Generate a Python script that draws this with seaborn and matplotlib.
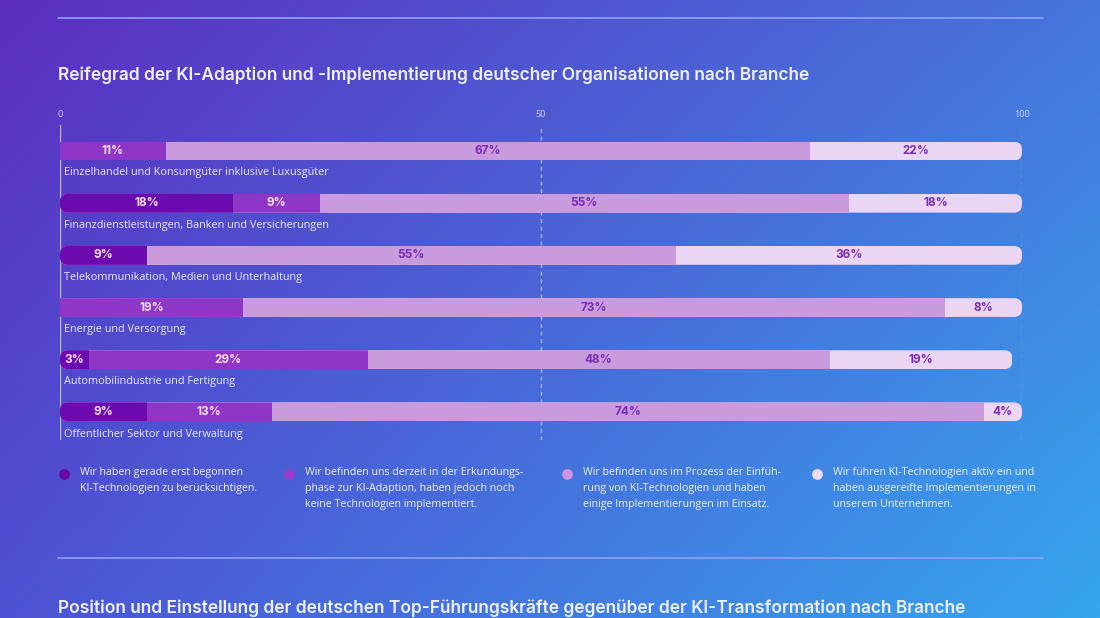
import numpy as np
import pandas as pd
import matplotlib
matplotlib.use("Agg")
import matplotlib.pyplot as plt
from matplotlib.patches import FancyBboxPatch
import seaborn as sns

# --- data -------------------------------------------------------------
branchen = ["Einzelhandel und Konsumgüter inklusive Luxusgüter",
            "Finanzdienstleistungen, Banken und Versicherungen",
            "Telekommunikation, Medien und Unterhaltung",
            "Energie und Versorgung",
            "Automobilindustrie und Fertigung",
            "Öffentlicher Sektor und Verwaltung"]
begonnen = [0, 18, 9, 0, 3, 9]
erkundung = [11, 9, 0, 19, 29, 13]
einfuehrung = [67, 55, 55, 73, 48, 74]
aktiv = [22, 18, 36, 8, 19, 4]

stufen = ["Wir haben gerade erst begonnen\nKI-Technologien zu berücksichtigen.",
          "Wir befinden uns derzeit in der Erkundungs-\nphase zur KI-Adaption, haben jedoch noch\nkeine Technologien implementiert.",
          "Wir befinden uns im Prozess der Einfüh-\nrung von KI-Technologien und haben\neinige Implementierungen im Einsatz.",
          "Wir führen KI-Technologien aktiv ein und\nhaben ausgereifte Implementierungen in\nunserem Unternehmen."]
ticks = [0, 50, 100]
titel = "Reifegrad der KI-Adaption und -Implementierung deutscher Organisationen nach Branche"
titel2 = "Position und Einstellung der deutschen Top-Führungskräfte gegenüber der KI-Transformation nach Branche"

farben = ["#6c0cb0", "#8f36c6", "#c99bdc", "#ead6f3"]
label_farben = ["#f3dcf9", "#f3dcf9", "#7b2db4", "#7b2db4"]
marker_farben = ["#6a0aa8", "#9a3ccb", "#d394e2", "#efdcf6"]

sns.set_style("white")
plt.rcParams["font.family"] = ["Open Sans", "DejaVu Sans"]
head_font = ["Inter", "DejaVu Sans"]

df = pd.DataFrame({"Branche": branchen, "s1": begonnen, "s2": erkundung,
                   "s3": einfuehrung, "s4": aktiv})
cols = ["s1", "s2", "s3", "s4"]
cum = df[cols].cumsum(axis=1)

W, H = 1100, 618
fig = plt.figure(figsize=(W / 100, H / 100), dpi=100)

# background + decoration layer in pixel coordinates
deco = fig.add_axes([0, 0, 1, 1], zorder=0)
deco.set_xlim(0, W)
deco.set_ylim(H, 0)
deco.axis("off")
gx, gy = np.meshgrid(np.linspace(0, 1, 220), np.linspace(0, 1, 124))
tl = np.array([92, 46, 192]); tr = np.array([70, 118, 220])
bl = np.array([78, 82, 212]); br = np.array([54, 166, 238])
grad = (tl * ((1 - gx) * (1 - gy))[..., None] + tr * (gx * (1 - gy))[..., None]
        + bl * ((1 - gx) * gy)[..., None] + br * (gx * gy)[..., None]) / 255
deco.imshow(grad, extent=[0, W, H, 0], aspect="auto", interpolation="bilinear")
for yy in [18, 558]:
    deco.plot([58, 1043], [yy, yy], color="#8fa2f2", lw=1.2)
deco.text(58, 75, titel, fontsize=12.5, fontweight="semibold", family=head_font,
          color="#eef0ff", va="center", ha="left")
deco.text(58, 617, titel2, fontsize=12.5, fontweight="semibold", family=head_font,
          color="#eef0ff", va="bottom", ha="left")
leg_x = [64, 289, 567, 817]
for k, txt in enumerate(stufen):
    deco.scatter([leg_x[k]], [474], s=60, color=marker_farben[k], linewidths=0)
    deco.text(leg_x[k] + 16, 467, txt, fontsize=7.7, color="#eef0ff", va="top",
              ha="left", linespacing=1.62)

# chart axes
ax = fig.add_axes([60 / W, 1 - 440 / H, 962 / W, 315 / H], zorder=1)
ax.set_facecolor("none")
for k in reversed(range(4)):
    sns.barplot(x=cum[cols[k]], y=df["Branche"], orient="h", color=farben[k],
                saturation=1, width=0.36, linewidth=0, errorbar=None, ax=ax)
ax.set_xlim(0, 100)
ax.set_ylim(5.54, -0.5)
ax.set_xticks(ticks)
ax.set_xticklabels([str(t) for t in ticks])
ax.xaxis.tick_top()
ax.tick_params(axis="x", length=0, labelsize=6.5, labelcolor="#d4d4f6", pad=4)
ax.set_yticks([])
ax.set_xlabel("")
ax.set_ylabel("")
sns.despine(ax=ax, left=True, bottom=True)
ax.axvline(0, color="#b4bcf2", lw=1.0, zorder=0)
for t in ticks[1:]:
    ax.axvline(t, color="#b8c6f6", lw=0.9, ls=(0, (3, 3)), zorder=0)

# rounded bar ends: clip every bar of a row to a rounded box of the row total;
# rows starting with the second stage keep a square left end
px_x = ax.transData.transform((1, 0))[0] - ax.transData.transform((0, 0))[0]
px_y = abs(ax.transData.transform((0, 1))[1] - ax.transData.transform((0, 0))[1])
r = 8 / px_x
totals = cum["s4"].tolist()
clips = {}
for i, tot in enumerate(totals):
    start = 0 if begonnen[i] > 0 else -3 * r
    clips[i] = FancyBboxPatch((start, i - 0.18), tot - start, 0.36,
                              boxstyle=f"round,pad=0,rounding_size={r}",
                              mutation_aspect=px_x / px_y, transform=ax.transData)
for p in ax.patches:
    row = int(round(p.get_y() + p.get_height() / 2))
    if row in clips:
        p.set_clip_path(clips[row])

for i in range(len(branchen)):
    for k, c in enumerate(cols):
        v = df[c].iloc[i]
        if v > 0:
            ax.text(cum[c].iloc[i] - v / 2, i, f"{v}%", ha="center", va="center",
                    fontsize=8.5, fontweight="bold", family=head_font,
                    color=label_farben[k])
    ax.text(0.45, i + 0.42, branchen[i], fontsize=7.8, color="#e8e8fc",
            va="center", ha="left")

fig.savefig("out.png", dpi=100)
